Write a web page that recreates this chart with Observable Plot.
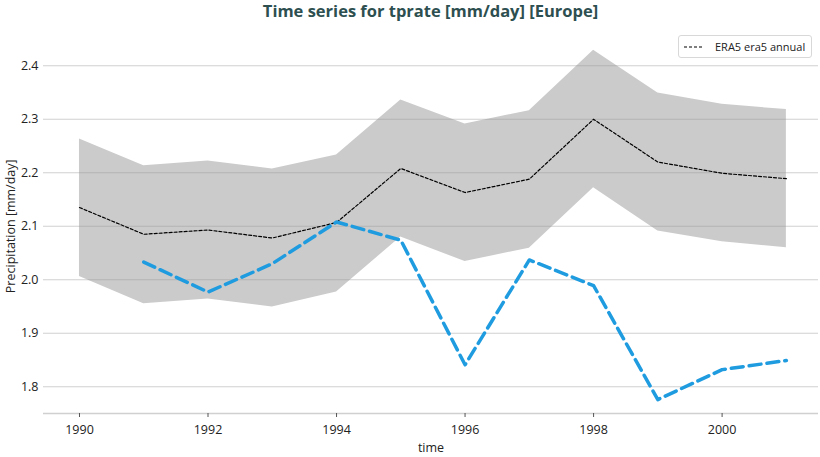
<!DOCTYPE html>
<html>
<head>
<meta charset="utf-8">
<script src="https://cdn.jsdelivr.net/npm/d3@7"></script>
<script src="https://cdn.jsdelivr.net/npm/@observablehq/plot@0.6"></script>
<style>
  html, body { margin: 0; padding: 0; background: #fff; }
  #wrap { position: relative; width: 820px; height: 457px; font-family: "Open Sans", "DejaVu Sans", sans-serif; }
  #title { position: absolute; left: 43px; width: 775px; top: 1px; height: 24px; text-align: center;
           font-weight: bold; font-size: 16.5px; line-height: 20px; color: #2d4f50; }
  #chart { position: absolute; left: 0; top: 28px; }
  #legend { position: absolute; left: 678px; top: 35px; width: 134px; height: 23px; box-sizing: border-box;
            border: 1px solid #d8d8d8; border-radius: 3px; background: rgba(255,255,255,0.85);
            font-size: 11px; color: #222; display: flex; align-items: center; }
  #legend svg { margin-left: 5px; margin-right: 11px; }
</style>
</head>
<body>
<div id="wrap">
  <div id="title">Time series for tprate [mm/day] [Europe]</div>
  <div id="chart"></div>
  <div id="legend"><svg width="20" height="6"><line x1="0" y1="3" x2="20" y2="3" stroke="#000" stroke-width="1.2" stroke-dasharray="3,2"/></svg><span>ERA5 era5 annual</span></div>
</div>
<script>
const years = [1990, 1991, 1992, 1993, 1994, 1995, 1996, 1997, 1998, 1999, 2000, 2001];
const era5Mean = [2.135, 2.085, 2.093, 2.078, 2.107, 2.208, 2.163, 2.188, 2.300, 2.220, 2.199, 2.189];
const era5Upper = [2.263, 2.213, 2.222, 2.207, 2.233, 2.336, 2.291, 2.316, 2.429, 2.349, 2.328, 2.318];
const era5Lower = [2.006, 1.955, 1.964, 1.949, 1.977, 2.080, 2.034, 2.059, 2.172, 2.091, 2.071, 2.060];
const modelYears = [1991, 1992, 1993, 1994, 1995, 1996, 1997, 1998, 1999, 2000, 2001];
const modelValues = [2.033, 1.977, 2.030, 2.108, 2.074, 1.841, 2.037, 1.989, 1.776, 1.832, 1.849];
const yTicks = [1.8, 1.9, 2.0, 2.1, 2.2, 2.3, 2.4];
const xTicks = [1990, 1992, 1994, 1996, 1998, 2000];

const band = years.map((y, i) => ({year: y, lo: era5Lower[i], hi: era5Upper[i], mean: era5Mean[i]}));
const model = modelYears.map((y, i) => ({year: y, value: modelValues[i]}));

const plot = Plot.plot({
  width: 820,
  height: 429,
  marginTop: 10.5,
  marginBottom: 44,
  marginLeft: 43,
  marginRight: 2,
  style: {fontFamily: '"Open Sans", "DejaVu Sans", sans-serif', fontSize: "12px", color: "#222", background: "transparent", overflow: "visible"},
  x: {domain: [1989.44, 2001.5]},
  y: {domain: [1.75, 2.45]},
  marks: [
    Plot.areaY(band, {x: "year", y1: "lo", y2: "hi", fill: "#cbcbcb"}),
    Plot.ruleY(yTicks, {stroke: "#9a9a9a", strokeOpacity: 0.45, strokeWidth: 1.2}),
    Plot.ruleY([1.75], {stroke: "#d0d0d0", strokeWidth: 1.5}),
    Plot.lineY(band, {x: "year", y: "mean", stroke: "#000", strokeWidth: 1.2, strokeDasharray: "3,2"}),
    Plot.lineY(model, {x: "year", y: "value", stroke: "#1f9be0", strokeWidth: 3.5, strokeDasharray: "12,6"}),
    Plot.axisY(yTicks, {tickSize: 0, tickPadding: 5, tickFormat: d3.format(".1f"), label: "Precipitation [mm/day]", labelAnchor: "center", labelArrow: "none", labelOffset: 37, fontSize: 12.5}),
    Plot.axisX(xTicks, {tickSize: 4, tickPadding: 8, stroke: "#555", tickFormat: d => String(d), label: "time", labelAnchor: "center", labelArrow: "none", labelOffset: 38, fontSize: 12.5})
  ]
});
document.getElementById("chart").appendChild(plot);
</script>
</body>
</html>
